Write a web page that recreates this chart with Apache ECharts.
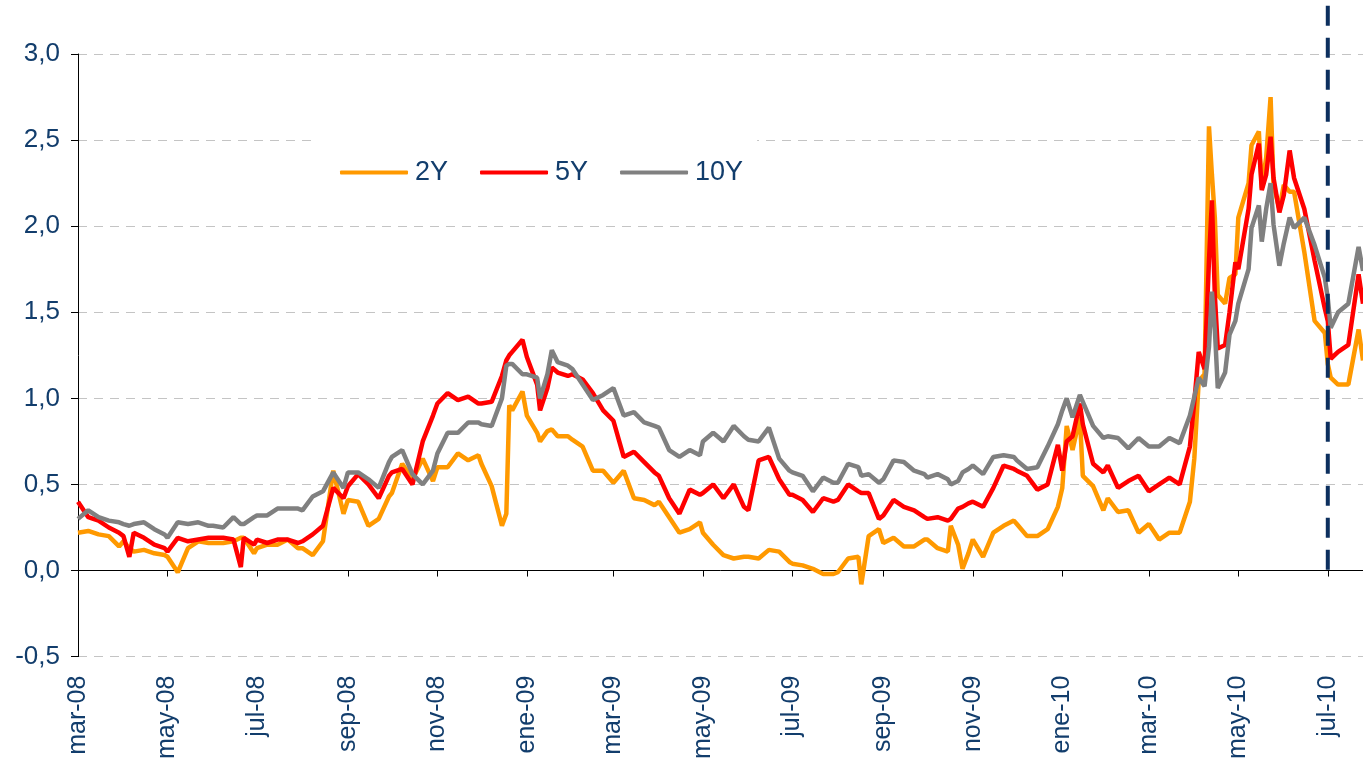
<!DOCTYPE html>
<html>
<head>
<meta charset="utf-8">
<script src="https://cdn.jsdelivr.net/npm/echarts@6/dist/echarts.min.js"></script>
<style>
  html, body { margin: 0; padding: 0; background: #fff; }
  #chart { width: 1363px; height: 762px; }
</style>
</head>
<body>
<div id="chart"></div>
<script>
// fechas de muestreo (aprox. semanal, con algunos puntos extra en picos)
const dates = [
  '2008-03-01','2008-03-08','2008-03-15','2008-03-22','2008-03-29',
  '2008-04-01','2008-04-05','2008-04-08','2008-04-15','2008-04-22','2008-04-29',
  '2008-05-01','2008-05-08','2008-05-15','2008-05-22','2008-05-29',
  '2008-06-01','2008-06-08','2008-06-15','2008-06-20','2008-06-22','2008-06-29',
  '2008-07-01','2008-07-08','2008-07-15','2008-07-22','2008-07-29',
  '2008-08-01','2008-08-08','2008-08-15','2008-08-22','2008-08-29',
  '2008-09-01','2008-09-08','2008-09-15','2008-09-22','2008-09-29',
  '2008-10-01','2008-10-08','2008-10-15','2008-10-22','2008-10-29',
  '2008-11-01','2008-11-08','2008-11-15','2008-11-22','2008-11-29',
  '2008-12-01','2008-12-08','2008-12-15','2008-12-18','2008-12-20','2008-12-22','2008-12-29',
  '2009-01-01','2009-01-08','2009-01-10','2009-01-15','2009-01-18','2009-01-22','2009-01-29',
  '2009-02-01','2009-02-08','2009-02-15','2009-02-22',
  '2009-03-01','2009-03-08','2009-03-15','2009-03-22','2009-03-29',
  '2009-04-01','2009-04-08','2009-04-15','2009-04-22','2009-04-29',
  '2009-05-01','2009-05-08','2009-05-15','2009-05-22','2009-05-29',
  '2009-06-01','2009-06-08','2009-06-15','2009-06-22','2009-06-29',
  '2009-07-01','2009-07-08','2009-07-15','2009-07-22','2009-07-29',
  '2009-08-01','2009-08-08','2009-08-15','2009-08-17','2009-08-22','2009-08-29',
  '2009-09-01','2009-09-08','2009-09-15','2009-09-22','2009-09-29',
  '2009-10-01','2009-10-08','2009-10-15','2009-10-17','2009-10-22','2009-10-25','2009-10-29',
  '2009-11-01','2009-11-08','2009-11-15','2009-11-22','2009-11-29',
  '2009-12-01','2009-12-08','2009-12-15','2009-12-22','2009-12-29',
  '2010-01-01','2010-01-04','2010-01-08','2010-01-13','2010-01-15','2010-01-22','2010-01-29',
  '2010-02-01','2010-02-08','2010-02-15','2010-02-22',
  '2010-03-01','2010-03-08','2010-03-15','2010-03-22','2010-03-29',
  '2010-04-01','2010-04-04','2010-04-08','2010-04-11','2010-04-13','2010-04-15','2010-04-17','2010-04-22','2010-04-25','2010-04-29',
  '2010-05-01','2010-05-08','2010-05-10','2010-05-15','2010-05-17','2010-05-20','2010-05-23','2010-05-25','2010-05-29',
  '2010-06-01','2010-06-05','2010-06-08','2010-06-15','2010-06-22','2010-06-29',
  '2010-07-01','2010-07-03','2010-07-08','2010-07-15','2010-07-22','2010-07-25'
];

const y2 = [
  .22, .23, .21, .20, .14,
  .17, .13, .11, .12, .10, .09,
  .08, -.01, .13, .17, .16,
  .16, .16, .17, .19, .19, .10,
  .13, .15, .15, .18, .13,
  .13, .09, .17, .58, .33,
  .41, .40, .26, .30, .43,
  .45, .62, .53, .65, .52,
  .60, .60, .68, .64, .67,
  .62, .49, .26, .33, .96, .93, 1.04,
  .90, .80, .75, .81, .82, .78, .78,
  .76, .72, .58, .58,
  .51, .58, .42, .41, .38,
  .40, .31, .22, .24, .28,
  .22, .15, .09, .07, .08,
  .08, .07, .12, .11, .05,
  .04, .03, .01, -.02, -.02,
  -.01, .07, .08, -.08, .20, .24,
  .16, .19, .14, .14, .18,
  .18, .13, .11, .26, .15, .01, .10,
  .18, .08, .22, .26, .29,
  .27, .20, .20, .24, .37,
  .48, .84, .70, .89, .55, .49, .35,
  .42, .34, .35, .22,
  .27, .18, .22, .22, .40,
  .65, 1.10, 1.14, 2.58, 2.30, 2.05, 1.60, 1.55, 1.70, 1.72,
  2.05, 2.25, 2.47, 2.55, 2.22, 2.40, 2.75, 2.24, 2.10,
  2.24, 2.20, 2.20, 1.85, 1.45, 1.38,
  1.20, 1.12, 1.08, 1.08, 1.40, 1.22
];

const y5 = [
  .40, .31, .29, .25, .22,
  .20, .08, .22, .19, .15, .13,
  .11, .19, .17, .18, .19,
  .19, .19, .18, .02, .19, .15,
  .18, .16, .18, .18, .16,
  .17, .21, .26, .48, .42,
  .49, .56, .50, .42, .55,
  .57, .59, .50, .75, .90,
  .97, 1.03, .99, 1.01, .97,
  .97, .98, 1.13, 1.22, 1.25, 1.27, 1.34,
  1.24, 1.08, .93, 1.06, 1.18, 1.15, 1.13,
  1.14, 1.11, 1.03, .93,
  .87, .66, .69, .63, .57,
  .55, .42, .33, .47, .44,
  .45, .50, .42, .50, .37,
  .35, .64, .66, .53, .44,
  .44, .41, .34, .42, .40,
  .41, .50, .46, .45, .45, .30,
  .32, .41, .37, .35, .31,
  .30, .31, .29, .30, .36, .37, .39,
  .40, .37, .48, .61, .59,
  .58, .55, .47, .50, .73,
  .58, .75, .78, .97, .85, .62, .57,
  .61, .48, .52, .55,
  .46, .50, .54, .50, .72,
  .98, 1.27, 1.17, 1.80, 2.15, 1.60, 1.29, 1.31, 1.50, 1.79,
  1.75, 2.10, 2.30, 2.48, 2.21, 2.30, 2.52, 2.28, 2.08,
  2.18, 2.44, 2.28, 2.10, 1.80, 1.52,
  1.45, 1.23, 1.27, 1.31, 1.72, 1.55
];

const y10 = [
  .30, .35, .31, .29, .28,
  .27, .26, .27, .28, .24, .21,
  .19, .28, .27, .28, .26,
  .26, .25, .31, .27, .27, .31,
  .32, .32, .36, .36, .36,
  .35, .43, .46, .57, .48,
  .57, .57, .53, .48, .63,
  .66, .70, .56, .50, .58,
  .68, .80, .80, .86, .86,
  .85, .84, 1.00, 1.19, 1.20, 1.20, 1.14,
  1.14, 1.12, 1.00, 1.14, 1.28, 1.21, 1.19,
  1.17, 1.08, .99, 1.02,
  1.06, .90, .92, .86, .84,
  .83, .70, .66, .70, .67,
  .75, .80, .75, .84, .78,
  .76, .75, .83, .65, .58,
  .57, .55, .46, .54, .51,
  .51, .62, .60, .55, .56, .51,
  .53, .64, .63, .58, .56,
  .54, .56, .53, .50, .52, .57, .59,
  .61, .56, .66, .67, .66,
  .64, .59, .60, .72, .85,
  .93, 1.00, .89, 1.02, .98, .84, .77,
  .78, .77, .71, .77,
  .72, .72, .77, .74, .90,
  1.01, 1.12, 1.07, 1.30, 1.62, 1.40, 1.06, 1.15, 1.37, 1.45,
  1.55, 1.75, 1.99, 2.12, 1.91, 2.10, 2.25, 2.01, 1.77,
  1.90, 2.05, 1.99, 2.05, 1.89, 1.70,
  1.58, 1.41, 1.50, 1.55, 1.88, 1.74
];

const seriesNames = ['2Y', '5Y', '10Y'];
const monthNames = ['ene','feb','mar','abr','may','jun','jul','ago','sep','oct','nov','dic'];
const markerDate = '2010-07-01';
const markerRange = [3.28, -0.06];

const textColor = '#123d6c';
const fontFam = 'Liberation Sans, Arial, sans-serif';
const xMin = new Date(2008, 2, 1).getTime();
const xMax = new Date(2010, 6, 25).getTime();

function pairs(vals) {
  return dates.map((d, i) => [d, vals[i]]);
}

function fmtMonth(v) {
  const d = new Date(v);
  return monthNames[d.getMonth()] + '-' + String(d.getFullYear()).slice(2);
}

let chart = echarts.init(document.getElementById('chart'));

let option = {
  animation: false,
  backgroundColor: '#fff',
  grid: { left: 78, right: 0, top: 54, bottom: 104, containLabel: false },
  legend: {
    data: seriesNames,
    icon: 'roundRect',
    left: 318,
    top: 134,
    padding: [25, 14, 20, 22],
    backgroundColor: '#fff',
    itemWidth: 68,
    itemHeight: 4,
    itemGap: 32,
    textStyle: { fontSize: 27, color: textColor, fontFamily: fontFam, padding: [0, 0, 0, 2] }
  },
  xAxis: [
    {
      type: 'time',
      position: 'bottom',
      min: xMin,
      max: xMax,
      splitNumber: 12,
      axisLine: { show: false, onZero: false },
      axisTick: { show: false },
      splitLine: { show: false },
      axisLabel: {
        rotate: 90,
        margin: 19,
        fontSize: 25,
        color: textColor,
        fontFamily: fontFam,
        formatter: fmtMonth
      }
    },
    {
      type: 'time',
      position: 'bottom',
      min: xMin,
      max: xMax,
      splitNumber: 12,
      axisLine: { show: true, onZero: true, lineStyle: { color: '#000', width: 1 } },
      axisTick: { show: true, length: 6, lineStyle: { color: '#000' } },
      axisLabel: { show: false },
      splitLine: { show: false }
    }
  ],
  yAxis: {
    type: 'value',
    min: -0.5,
    max: 3,
    interval: 0.5,
    axisLine: { show: true, lineStyle: { color: '#000', width: 1 } },
    axisTick: { show: true, length: 7, lineStyle: { color: '#000' } },
    splitLine: { show: true, lineStyle: { color: '#c4c4c4', type: [9, 7], width: 1 } },
    axisLabel: {
      fontSize: 26,
      margin: 18,
      color: textColor,
      fontFamily: fontFam,
      formatter: (v) => v.toFixed(1).replace('.', ',')
    }
  },
  series: [
    {
      name: '2Y', type: 'line', data: pairs(y2), showSymbol: false, symbol: 'none',
      color: '#ff9900', lineStyle: { width: 4.5, color: '#ff9900' }
    },
    {
      name: '5Y', type: 'line', data: pairs(y5), showSymbol: false, symbol: 'none',
      color: '#ff0000', lineStyle: { width: 4.5, color: '#ff0000' }
    },
    {
      name: '10Y', type: 'line', data: pairs(y10), showSymbol: false, symbol: 'none',
      color: '#808080', lineStyle: { width: 4.5, color: '#808080' }
    },
    {
      name: 'marker', type: 'line', clip: false, silent: true, showSymbol: false, symbol: 'none',
      data: markerRange.map((v) => [markerDate, v]),
      lineStyle: { width: 4, color: '#0c2f5e', type: [20, 12] },
      z: 5
    }
  ]
};

chart.setOption(option);
</script>
</body>
</html>
